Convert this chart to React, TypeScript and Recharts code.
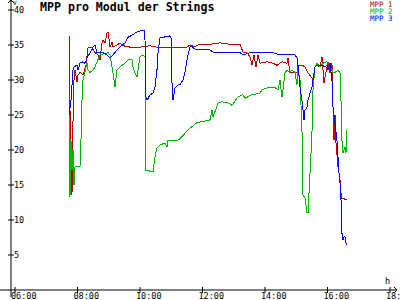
import React from "react";
import { LineChart, Line, XAxis, YAxis, ReferenceLine, Legend } from "recharts";

// time in minutes since midnight, voltage in V
const mpp1Times = [463.7, 464.6, 465.6, 467.5, 469.4, 471.4, 473.3, 475.2, 479, 481, 484.8, 490.6, 496.3, 500.2, 507.8, 513.6, 519.4, 523.2, 527, 529, 532.8, 536.6, 538.6, 542.4, 546.2, 548.2, 555.8, 561.6, 567.4, 580.8, 600, 619.2, 638.4, 657.6, 676.8, 690.2, 696, 701.8, 715.2, 734.4, 753.6, 772.8, 792, 797.8, 805.4, 811.2, 815, 818.9, 822.7, 826.6, 830.4, 843.8, 855.4, 863, 872.6, 882.2, 884.2, 888, 893.8, 901.4, 903.4, 911, 916.8, 922.6, 930.2, 932.2, 936, 939.8, 945.6, 949.4, 953.3, 959, 961, 964.8, 968.6, 970.6, 972.5, 974.4, 976.3, 980.2, 984, 985.9, 987.8, 997.4];
const mpp1Volts = [36.3, 33.9, 25.7, 20, 13.6, 24.3, 30, 31.4, 29.7, 30.7, 31.1, 30.7, 32.1, 34.6, 34.6, 33.9, 33.6, 32.9, 35.3, 35.7, 35.3, 36.7, 36.9, 34.7, 35.4, 34.7, 35, 35.3, 34.9, 34.7, 34.7, 34.9, 34.6, 34.7, 34.7, 34.7, 35, 34.7, 35.1, 35.1, 35.3, 35.1, 35.1, 34, 33.9, 33.3, 32.1, 33.6, 31.9, 33.6, 32.4, 32.6, 32.4, 32.1, 32.6, 32.4, 33.1, 31, 31.1, 31, 32.1, 32.1, 31.9, 31, 30.3, 29.6, 31.9, 32.1, 31.9, 33.3, 29.6, 31.9, 32.6, 31, 32.4, 26.1, 21.4, 25, 21, 17.6, 15.7, 13.9, 13.1, 12.9];

const mpp2Times = [463.7, 465.6, 467.5, 469.4, 471.4, 473.3, 475.2, 484.8, 486.7, 488.6, 490.6, 498.2, 500.2, 504, 509.8, 513.6, 517.4, 523.2, 538.6, 542.4, 546.2, 548.2, 552, 555.8, 561.6, 571.2, 577, 584.6, 586.6, 590.4, 594.2, 596.2, 600, 605.8, 609.6, 611.5, 625, 628.8, 632.6, 638.4, 648, 651.8, 653.8, 673, 680.6, 692.2, 709.4, 734.4, 738.2, 740.2, 749.8, 757.4, 769, 776.6, 788.2, 797.8, 801.6, 815, 830.4, 834.2, 845.8, 859.2, 865, 868.8, 872.6, 874.6, 878.4, 882.2, 888, 891.8, 897.6, 901.4, 903.4, 907.2, 911, 913, 916.8, 920.6, 922.6, 926.4, 930.2, 932.2, 936, 939.8, 945.6, 951.4, 959, 964.8, 970.6, 974.4, 980.2, 984, 985.9, 987.8, 989.8, 993.6, 995.5, 997.4];
const mpp2Volts = [26, 13.3, 21.4, 17.1, 20, 15, 17.6, 17.6, 21.4, 27.1, 30, 32.4, 31.4, 31.1, 31.4, 31.9, 32.6, 33.6, 33.9, 33.6, 31.9, 31, 29, 31.4, 31.9, 32.4, 32.9, 32.9, 31.9, 31, 30.4, 31.4, 33.3, 33.6, 33.3, 17.1, 16.9, 19, 20.3, 20.7, 21, 20.4, 21.4, 21.4, 21.9, 22.9, 23.9, 24.3, 25.7, 24.7, 26.7, 26.9, 26.7, 26.4, 27.6, 27.9, 27.4, 27.9, 28.1, 28.6, 28.9, 28.9, 28.6, 30, 27.6, 28.6, 31, 31.4, 31.1, 31.4, 31.1, 29.3, 31.4, 30, 22.9, 13.6, 13.1, 11.1, 11, 16.7, 22.4, 28.6, 31.9, 32.4, 31.9, 32.4, 32.6, 32.1, 31, 31.1, 31.4, 31, 27.1, 21.4, 19.6, 20.4, 19.6, 22.9];

const mpp3Times = [463.7, 467.5, 471.4, 473.3, 479, 481, 484.8, 488.6, 494.4, 498.2, 504, 509.8, 513.6, 517.4, 529, 536.6, 542.4, 548.2, 555.8, 561.6, 571.2, 577, 584.6, 590.4, 596.2, 603.8, 607.7, 609.6, 611.5, 613.4, 619.2, 625, 628.8, 632.6, 634.6, 638.4, 644.2, 657.6, 659.5, 661.4, 663.4, 667.2, 673, 676.8, 682.6, 686.4, 690.2, 696, 699.8, 701.8, 709.4, 734.4, 740.2, 767, 792, 797.8, 811.2, 843.8, 855.4, 868.8, 888, 897.6, 901.4, 903.4, 907.2, 911, 913, 914.9, 916.8, 920.6, 922.6, 926.4, 930.2, 932.2, 936, 939.8, 949.4, 955.2, 959, 961, 964.8, 968.6, 970.6, 974.4, 978.2, 980.2, 982.1, 984, 985.9, 987.8, 989.8, 991.7, 993.6, 995.5, 997.4];
const mpp3Volts = [25, 27.1, 31.4, 31.9, 32.1, 31.4, 32.4, 32.6, 32.4, 33.1, 33.9, 34.7, 35, 33.9, 33.9, 33.6, 33.1, 33.6, 34.3, 34.7, 35.3, 36.1, 36.4, 36.7, 36.9, 37.1, 37.1, 35.7, 27.6, 27.1, 27.9, 28.1, 29, 31.4, 33.9, 36, 36.1, 36.3, 36.1, 29.6, 27.1, 28.9, 29.3, 29.3, 30, 31.1, 32.9, 34.7, 35, 34.6, 34.3, 34.3, 34, 33.9, 33.9, 33.6, 33.9, 33.9, 33.9, 33.6, 33.7, 33.6, 33.1, 32.1, 29, 27.1, 25.7, 24.3, 25.7, 26.1, 27.1, 28.1, 29, 30, 31.9, 32.1, 32.1, 31.9, 32.1, 31.4, 32.4, 30, 26.1, 23.9, 21.4, 19, 16.7, 15.3, 12.9, 8.1, 7.1, 7.6, 7.6, 6.7, 6.4];

const seriesNames = ["MPP 1", "MPP 2", "MPP 3"];
const seriesColors = ["#c00000", "#00b400", "#0000ff"];

const xTicks = [360, 480, 600, 720, 840, 960, 1080];
const xTickLabels = ["06:00", "08:00", "10:00", "12:00", "14:00", "16:00", "18:00"];
const yTicks = [5, 10, 15, 20, 25, 30, 35, 40];

const toPoints = (ts: number[], vs: number[]) => ts.map((t, i) => ({ t, v: vs[i] }));
const seriesData = [
  toPoints(mpp1Times, mpp1Volts),
  toPoints(mpp2Times, mpp2Volts),
  toPoints(mpp3Times, mpp3Volts),
];

const X_MIN = 352.32;
const X_MAX = 1095.36;
const Y_MAX = 41.43;
const MONO = "'DejaVu Sans Mono', 'Liberation Mono', monospace";

const XTick = (props: any) => {
  const { x, y, payload } = props;
  const label = xTickLabels[xTicks.indexOf(payload.value)];
  return (
    <g>
      <line x1={x} x2={x} y1={y - 3} y2={y + 3} stroke="#000" />
      <text x={x - 4} y={y + 9} fontFamily={MONO} fontSize={8.5} fill="#000">
        {label}
      </text>
    </g>
  );
};

const YTick = (props: any) => {
  const { x, y, payload } = props;
  return (
    <g>
      <line x1={x - 3} x2={x + 3} y1={y} y2={y} stroke="#000" />
      <text x={x + 3} y={y} dominantBaseline="central" fontFamily={MONO} fontSize={8.5} fill="#000">
        {payload.value}
      </text>
    </g>
  );
};

const LegendContent = () => (
  <svg width={30} height={24}>
    {seriesNames.map((n, i) => (
      <text key={n} x={0} y={7 + i * 7.2} fontFamily={MONO} fontSize={7.5} fill={seriesColors[i]}>
        {n}
      </text>
    ))}
  </svg>
);

export default function App() {
  const pxX = 1.92; // minutes per pixel
  const pxY = 1 / 7; // volts per pixel
  return (
    <div style={{ position: "absolute", left: 0, top: 0, width: 400, height: 300, background: "#fff" }}>
      <LineChart width={400} height={300} margin={{ top: 0, right: 2, bottom: 0, left: 0 }}>
        <XAxis
          dataKey="t"
          type="number"
          domain={[X_MIN, X_MAX]}
          allowDataOverflow
          ticks={xTicks}
          interval={0}
          height={10}
          axisLine={false}
          tickLine={false}
          tickSize={0}
          tickMargin={0}
          tick={<XTick />}
        />
        <YAxis
          type="number"
          domain={[0, Y_MAX]}
          allowDataOverflow
          ticks={yTicks}
          interval={0}
          width={11}
          axisLine={false}
          tickLine={false}
          tickSize={0}
          tickMargin={0}
          tick={<YTick />}
        />
        <Legend
          layout="vertical"
          align="center"
          verticalAlign="middle"
          content={<LegendContent />}
          wrapperStyle={{ left: 370, top: 0, width: 30, height: 24 }}
        />
        {/* axis lines with arrows */}
        <ReferenceLine
          segment={[{ x: X_MIN - 11 * pxX, y: 0 }, { x: X_MIN + 386 * pxX, y: 0 }]}
          stroke="#000"
          ifOverflow="visible"
        />
        <ReferenceLine
          segment={[{ x: X_MIN + 383 * pxX, y: 3 * pxY }, { x: X_MIN + 386 * pxX, y: 0 }]}
          stroke="#000"
          ifOverflow="visible"
        />
        <ReferenceLine
          segment={[{ x: X_MIN + 383 * pxX, y: -3 * pxY }, { x: X_MIN + 386 * pxX, y: 0 }]}
          stroke="#000"
          ifOverflow="visible"
        />
        <ReferenceLine
          segment={[{ x: X_MIN, y: -7 * pxY }, { x: X_MIN, y: Y_MAX }]}
          stroke="#000"
          ifOverflow="visible"
        />
        <ReferenceLine
          segment={[{ x: X_MIN - 3 * pxX, y: Y_MAX - 3 * pxY }, { x: X_MIN, y: Y_MAX }]}
          stroke="#000"
          ifOverflow="visible"
        />
        <ReferenceLine
          segment={[{ x: X_MIN + 3 * pxX, y: Y_MAX - 3 * pxY }, { x: X_MIN, y: Y_MAX }]}
          stroke="#000"
          ifOverflow="visible"
        />
        {seriesData.map((d, i) => (
          <Line
            key={seriesNames[i]}
            data={d}
            dataKey="v"
            name={seriesNames[i]}
            type="linear"
            stroke={seriesColors[i]}
            strokeWidth={1}
            shapeRendering="crispEdges"
            dot={false}
            activeDot={false}
            isAnimationActive={false}
          />
        ))}
      </LineChart>
      <svg
        width={400}
        height={300}
        style={{ position: "absolute", left: 0, top: 0, pointerEvents: "none" }}
      >
        <text x={40} y={11} fontFamily={MONO} fontWeight="bold" fontSize={11.6} fill="#000">
          MPP pro Modul der Strings
        </text>
        <text x={13} y={4.5} fontFamily={MONO} fontSize={6} fill="#000">
          V
        </text>
        <text x={385} y={284} fontFamily={MONO} fontSize={8.5} fill="#000">
          h
        </text>
      </svg>
    </div>
  );
}
